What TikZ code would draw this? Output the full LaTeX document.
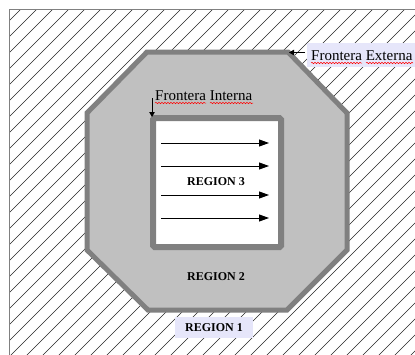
\documentclass[tikz,border=0pt]{standalone}
\usepackage{fontspec}
\setmainfont{Liberation Serif}
\usetikzlibrary{arrows.meta,decorations.pathmorphing}
\definecolor{bordergray}{HTML}{808080}
\definecolor{regiongray}{HTML}{C0C0C0}
\definecolor{lav}{HTML}{E6E6FA}
\begin{document}
\begin{tikzpicture}[x=1pt,y=-1pt,
  hatch/.style={black!85,line width=0.6pt},
  octagon/.style={fill=regiongray,draw=bordergray,line width=5pt},
  innerbox/.style={fill=white,draw=bordergray,line width=6pt,rounded corners=1.5pt},
  flow/.style={black,line width=0.9pt,-{Triangle[length=10pt,width=7pt]}},
  pointer/.style={black,line width=0.8pt,-{Triangle[length=5pt,width=5.5pt]}},
  regtext/.style={inner sep=0pt,font=\fontsize{12}{14}\selectfont\bfseries},
  lbltext/.style={inner sep=0pt,font=\fontsize{15}{18}\selectfont},
  squig/.style={red,line width=0.5pt,decorate,decoration={snake,segment length=3pt,amplitude=0.7pt}}]
\useasboundingbox (0,0) rectangle (415,354);
\fill[white] (0,0) rectangle (415,354);
% region 1 hatching
\begin{scope}
  \clip (9,9) rectangle (420,360);
  \foreach \c in {14,30,...,798} \draw[hatch] (\c,0) -- (\c-420,420);
\end{scope}
\draw[bordergray,line width=0.8pt] (9,420) -- (9,9) -- (420,9);
% region 2 octagon
\draw[octagon] (147,52) -- (288,52) -- (347,113) -- (347,250) -- (287,310) -- (148,310) -- (87,250) -- (87,113) -- cycle;
% region 3 box
\draw[innerbox] (153,118) rectangle (281,247);
% flow arrows
\foreach \i/\y in {1/143,2/166,3/195,4/218}{
  \coordinate (s\i) at (161,\y);
  \coordinate (e\i) at (269,\y);
  \draw[flow] (s\i) -- (e\i);
}
% region labels
\node[regtext] (r3) at (216,182) {REGION 3};
\node[regtext] (r2) at (216,277) {REGION 2};
\fill[lav] (175,317) rectangle (253,338);
\node[regtext] (r1) at (214,327.5) {REGION 1};
% Frontera Interna
\node[lbltext,anchor=base west] (fi) at (155,100.5) {Frontera Interna};
\draw[squig] ([yshift=-2.5pt]fi.base west) -- ++(51,0);
\draw[squig] ([yshift=-2.5pt]fi.base west) ++(55,0) -- ++(43,0);
\coordinate (fiTail) at (152,98);
\coordinate (fiTip) at (152,117);
\draw[pointer] (fiTail) -- (fiTip);
% Frontera Externa
\fill[lav] (307,43) rectangle (420,67);
\node[lbltext,anchor=base west] (fe) at (311,60.5) {Frontera Externa};
\draw[squig] ([yshift=-2.5pt]fe.base west) -- ++(51,0);
\draw[squig] ([yshift=-2.5pt]fe.base west) ++(55,0) -- ++(47,0);
\coordinate (feTail) at (305,52.5);
\coordinate (feTip) at (289,52.5);
\draw[pointer] (feTail) -- (feTip);
\end{tikzpicture}
\end{document}
